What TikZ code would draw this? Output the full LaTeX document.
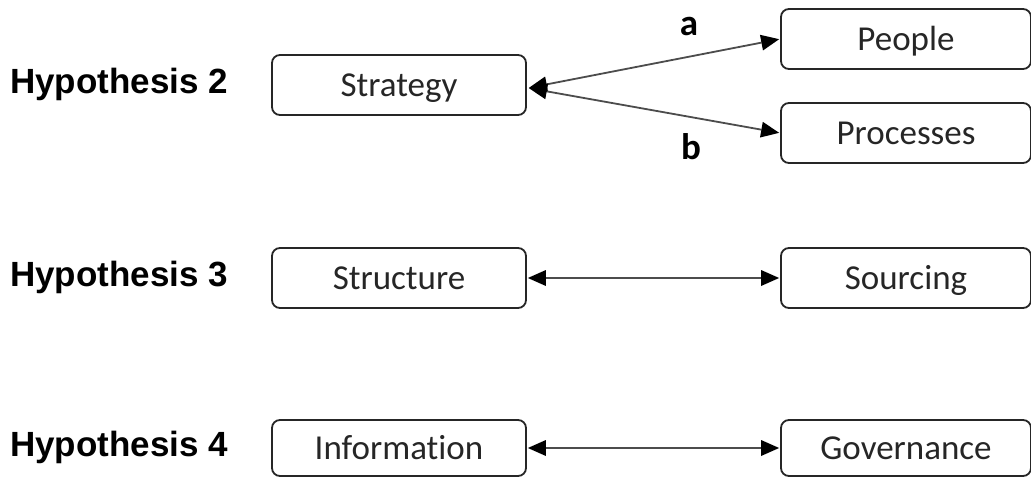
\documentclass[tikz,border=0pt]{standalone}
\usepackage{fontspec}
\setmainfont{Carlito}[Ligatures={NoCommon}]
\newfontfamily\hypfont{Liberation Sans}
\usetikzlibrary{arrows.meta}
\tikzset{
  bigtip/.tip={Triangle[length=18pt,width=16pt,line width=0pt,fill=black]}
}
\begin{document}
\begin{tikzpicture}[x=1pt,y=-1pt,
  boxnode/.style={draw=black!85, line width=1.8pt, rounded corners=8pt,
    minimum width=254pt, minimum height=60pt, inner sep=0pt,
    text height=27pt, text depth=5pt,
    font=\fontsize{35}{40}\selectfont, text=black!85},
  hyplabel/.style={anchor=west, inner sep=0pt,
    font=\hypfont\bfseries\fontsize{35}{40}\selectfont},
  letter/.style={inner sep=0pt, font=\bfseries\fontsize{37}{42}\selectfont},
  link/.style={line width=1.8pt, draw=black!70, bigtip-bigtip,
    shorten <=1pt, shorten >=1pt}]
\useasboundingbox (0,0) rectangle (1031,477);

% row of hypothesis 2
\node[hyplabel] (h2) at (10,84) {Hypothesis 2};
\node[boxnode] (strategy) at (399,85) {Strategy};
\node[boxnode, minimum width=250pt] (people) at (906,39) {People};
\node[boxnode, minimum width=250pt] (processes) at (906,133) {Processes};
\coordinate (sright) at (528,88);
\draw[link] (sright) -- (people.west);
\draw[link] (sright) -- (processes.west);
\node[letter] (la) at (689,26) {a};
\node[letter] (lb) at (691,147) {b};

% row of hypothesis 3
\node[hyplabel] (h3) at (10,277) {Hypothesis 3};
\node[boxnode] (structure) at (399,278) {Structure};
\node[boxnode, minimum width=250pt] (sourcing) at (906,278) {Sourcing};
\draw[link] (structure.east) -- (sourcing.west);

% row of hypothesis 4
\node[hyplabel] (h4) at (10,447) {Hypothesis 4};
\node[boxnode, minimum height=56pt] (information) at (399,448) {Information};
\node[boxnode, minimum width=250pt, minimum height=56pt] (governance) at (906,448) {Governance};
\draw[link] (information.east) -- (governance.west);
\end{tikzpicture}
\end{document}
